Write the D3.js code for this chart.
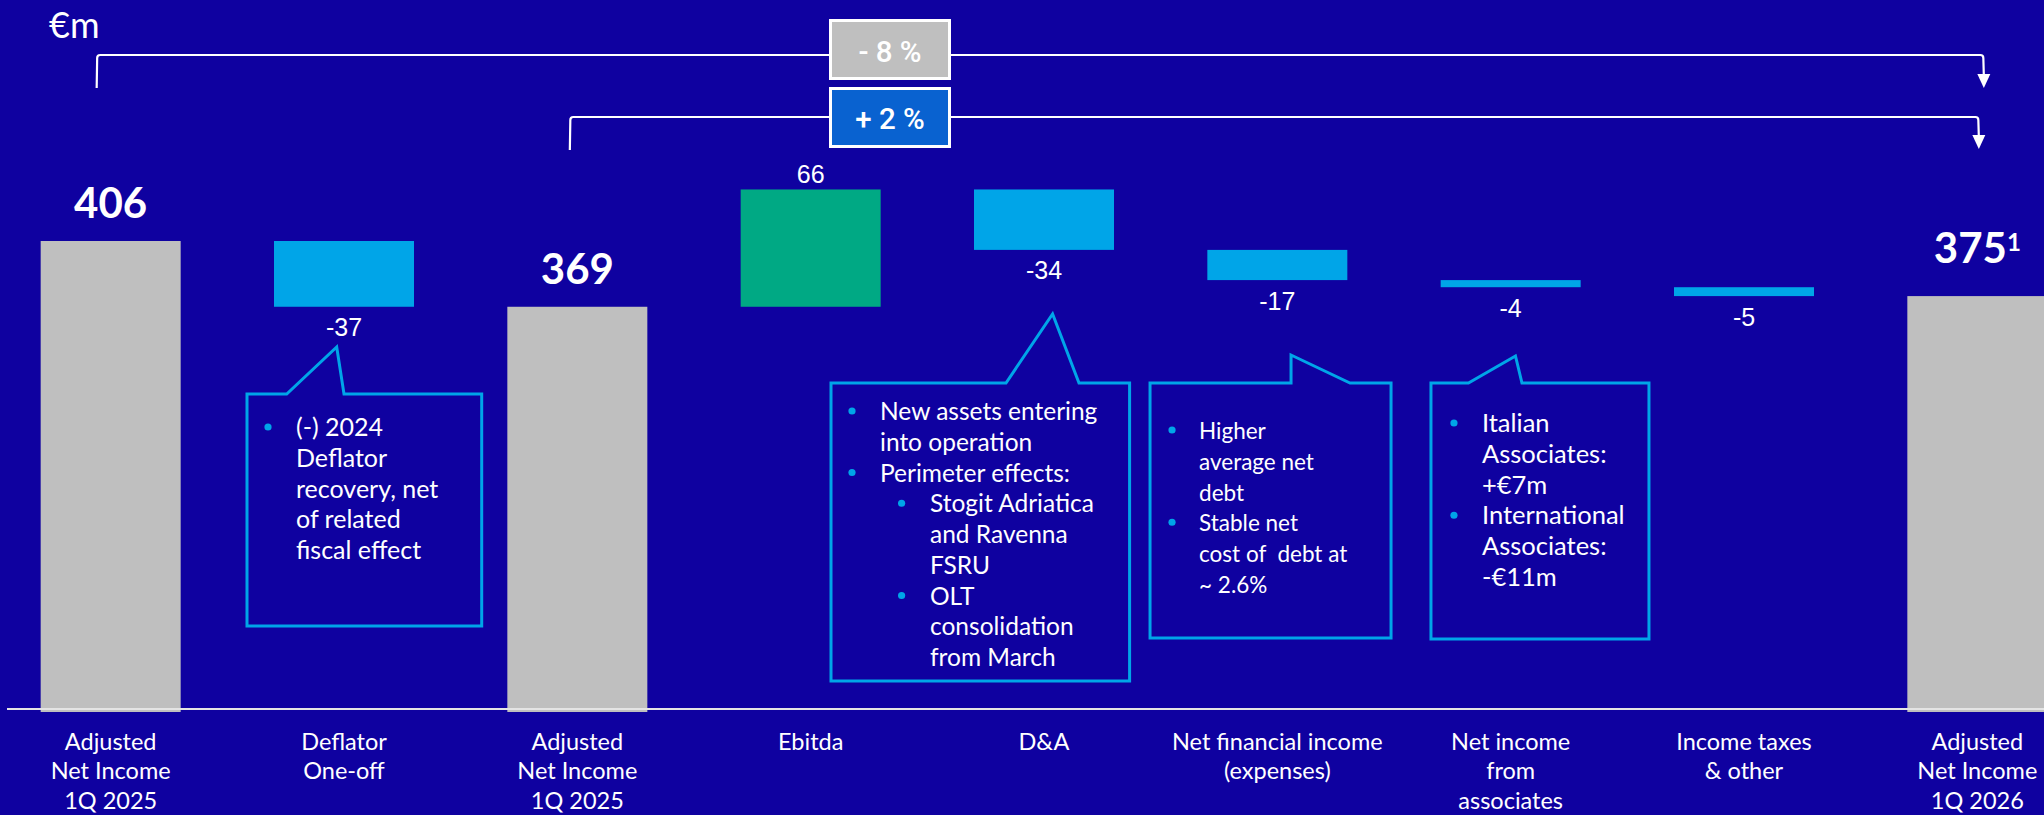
<!DOCTYPE html>
<html>
<head>
<meta charset="utf-8">
<script src="https://cdn.jsdelivr.net/npm/d3@7"></script>
<style>
  html, body { margin: 0; padding: 0; background: #0f01a0; }
  svg { display: block; }
  text { font-family: Lato, "Open Sans", sans-serif; fill: #ffffff; }
</style>
</head>
<body>
<svg id="chart" width="2044" height="815"></svg>
<script>
// ---- data -------------------------------------------------------------
const categories = [
  "Adjusted\nNet Income\n1Q 2025",
  "Deflator\nOne-off",
  "Adjusted\nNet Income\n1Q 2025",
  "Ebitda",
  "D&A",
  "Net financial income\n(expenses)",
  "Net income\nfrom\nassociates",
  "Income taxes\n& other",
  "Adjusted\nNet Income\n1Q 2026"
];
const values   = [406, -37, 369, 66, -34, -17, -4, -5, 375];
const barTypes = ["total", "delta", "total", "delta", "delta", "delta", "delta", "delta", "total"];
const footnotes = ["", "", "", "", "", "", "", "", "1"];
const unitLabel = "€m";

const noteDeflator = [
  { t: "(-) 2024", lvl: 1 }, { t: "Deflator", lvl: 0 }, { t: "recovery, net", lvl: 0 },
  { t: "of related", lvl: 0 }, { t: "fiscal effect", lvl: 0 }
];
const noteDA = [
  { t: "New assets entering", lvl: 1 }, { t: "into operation", lvl: 0 },
  { t: "Perimeter effects:", lvl: 1 },
  { t: "Stogit Adriatica", lvl: 2 }, { t: "and Ravenna", lvl: 3 }, { t: "FSRU", lvl: 3 },
  { t: "OLT", lvl: 2 }, { t: "consolidation", lvl: 3 }, { t: "from March", lvl: 3 }
];
const noteFinancial = [
  { t: "Higher", lvl: 1 }, { t: "average net", lvl: 0 }, { t: "debt", lvl: 0 },
  { t: "Stable net", lvl: 1 }, { t: "cost of  debt at", lvl: 0 }, { t: "~ 2.6%", lvl: 0 }
];
const noteAssociates = [
  { t: "Italian", lvl: 1 }, { t: "Associates:", lvl: 0 }, { t: "+€7m", lvl: 0 },
  { t: "International", lvl: 1 }, { t: "Associates:", lvl: 0 }, { t: "-€11m", lvl: 0 }
];

// ---- style ------------------------------------------------------------
const C = {
  total: "#bfbfbf",
  up: "#00a984",
  down: "#00a5e8",
  callout: "#00a5e8",
  pctDown: "#bfbfbf",
  pctUp: "#0962d0",
  axis: "#e4e4e4"
};

const svg = d3.select("#chart");

// ---- scales -----------------------------------------------------------
const x = d3.scaleBand()
  .domain(d3.range(categories.length))
  .range([-6, 2094])
  .paddingInner(0.4)
  .paddingOuter(0.2);

// value axis is broken: bars start from 141 rather than zero
const y = d3.scaleLinear().domain([141, 406]).range([712, 241]);

// ---- waterfall geometry -------------------------------------------------
let running = 0;
const bars = values.map((v, i) => {
  let lo, hi;
  if (barTypes[i] === "total") {
    lo = y.domain()[0]; hi = v; running = v;
  } else {
    const start = running; running += v;
    lo = Math.min(start, running); hi = Math.max(start, running);
  }
  return { i, v, type: barTypes[i], lo, hi };
});

const color = d => d.type === "total" ? C.total : (d.v > 0 ? C.up : C.down);

svg.append("g").selectAll("rect")
  .data(bars).join("rect")
  .attr("x", d => x(d.i))
  .attr("width", x.bandwidth())
  .attr("y", d => y(d.hi))
  .attr("height", d => y(d.lo) - y(d.hi))
  .attr("fill", color);

// baseline
svg.append("line")
  .attr("x1", 7).attr("x2", 2044)
  .attr("y1", 709).attr("y2", 709)
  .attr("stroke", C.axis).attr("stroke-width", 2.2);

// ---- value labels --------------------------------------------------------
const cx = i => x(i) + x.bandwidth() / 2;

const totals = bars.filter(d => d.type === "total");
const totalLabels = svg.append("g").selectAll("text")
  .data(totals).join("text")
  .attr("x", d => cx(d.i))
  .attr("y", d => y(d.hi) - (footnotes[d.i] ? 33 : 23))
  .attr("text-anchor", "middle")
  .style("font-weight", 700)
  .style("font-size", "42px");
totalLabels.append("tspan").text(d => d.v);
totalLabels.filter(d => footnotes[d.i])
  .append("tspan")
  .attr("dy", -12)
  .style("font-size", "24px")
  .text(d => footnotes[d.i]);

const deltas = bars.filter(d => d.type === "delta");
svg.append("g").selectAll("text")
  .data(deltas).join("text")
  .attr("x", d => cx(d.i))
  .attr("y", d => d.v > 0 ? y(d.hi) - 6 : y(d.lo) + 29.5)
  .attr("text-anchor", "middle")
  .style("font-family", "'Liberation Sans', Arial, sans-serif")
  .style("font-size", "25px")
  .text(d => d.v);

// ---- category labels ------------------------------------------------------
const catG = svg.append("g").selectAll("text")
  .data(categories.map((c, i) => ({ c, i }))).join("text")
  .attr("x", d => cx(d.i))
  .attr("y", 750)
  .attr("text-anchor", "middle")
  .style("font-size", "23.5px");
catG.selectAll("tspan")
  .data(d => d.c.split("\n").map(t => ({ t, x: cx(d.i) })))
  .join("tspan")
  .attr("x", d => d.x)
  .attr("dy", (d, k) => k === 0 ? 0 : 29.3)
  .text(d => d.t);

// ---- unit -----------------------------------------------------------------
svg.append("text")
  .attr("x", 49).attr("y", 38)
  .style("font-size", "36px")
  .text(unitLabel);

// ---- change brackets ---------------------------------------------------------
const first = values[0], mid = values[2], last = values[values.length - 1];
const pct = (a, b) => {
  const p = Math.round((b - a) / a * 100);
  return (p < 0 ? "- " : "+ ") + Math.abs(p) + " %";
};

function bracket(x0, yBottom, yLine, x1, yTip) {
  const r = 3;
  svg.append("path")
    .attr("d", `M${x0},${yBottom} L${x0 + 0.5},${yLine + r} Q${x0 + 0.5},${yLine} ${x0 + r + 0.5},${yLine}
               L${x1 - r},${yLine} Q${x1},${yLine} ${x1},${yLine + r} L${x1 + 0.5},${yTip - 12}`)
    .attr("fill", "none").attr("stroke", "#ffffff").attr("stroke-width", 2.2);
  svg.append("path")
    .attr("d", `M${x1 + 0.5 - 6.5},${yTip - 14} L${x1 + 0.5 + 6.5},${yTip - 14} L${x1 + 0.5},${yTip} Z`)
    .attr("fill", "#ffffff");
}

bracket(cx(0) - 14, 88, 55, cx(8) + 6, 88);
bracket(cx(2) - 7.5, 150, 117, cx(8) + 1, 149);

function pctBox(yTop, fill, label, baseline) {
  svg.append("rect")
    .attr("x", 830.5).attr("y", yTop)
    .attr("width", 119).attr("height", 58)
    .attr("fill", fill).attr("stroke", "#ffffff").attr("stroke-width", 3);
  svg.append("text")
    .attr("x", 890).attr("y", baseline)
    .attr("text-anchor", "middle")
    .style("font-family", "Roboto, 'Liberation Sans', sans-serif")
    .style("font-weight", 500)
    .style("font-size", "29.5px")
    .style("white-space", "pre")
    .text(label);
}
pctBox(20.5, C.pctDown, pct(first, last), 61.5);
pctBox(88.5, C.pctUp, pct(mid, last), 129);

// ---- callouts ---------------------------------------------------------------
// offsets are relative to the centre of the bar the callout points at
const calloutLayout = [
  { bar: 1, notes: noteDeflator, size: 25, left: -97, right: 137.7, top: 394, bottom: 626,
    baseL: -57.3, tipX: -7.3, tipY: 347, baseR: 0, bx: -76, tx: -48, sbx: 0, stx: 0, first: 436 },
  { bar: 4, notes: noteDA, size: 24.5, left: -213, right: 85.6, top: 383, bottom: 681,
    baseL: -38, tipX: 8.6, tipY: 314, baseR: 35, bx: -192, tx: -164, sbx: -142.4, stx: -114, first: 420 },
  { bar: 5, notes: noteFinancial, size: 22.5, left: -127.3, right: 113.7, top: 383, bottom: 638,
    baseL: 13.7, tipX: 13.7, tipY: 355, baseR: 72.7, bx: -105.3, tx: -78.3, sbx: 0, stx: 0, first: 439 },
  { bar: 6, notes: noteAssociates, size: 25.5, left: -79.7, right: 138.3, top: 383, bottom: 639,
    baseL: -42.2, tipX: 4.8, tipY: 356, baseR: 11.3, bx: -56.7, tx: -28.7, sbx: 0, stx: 0, first: 432 }
];
const lineH = 30.75;

calloutLayout.forEach(c => {
  const o = cx(c.bar);
  const g = svg.append("g");
  g.append("path")
    .attr("d", `M${o + c.left},${c.top} L${o + c.baseL},${c.top} L${o + c.tipX},${c.tipY}
                L${o + c.baseR},${c.top} L${o + c.right},${c.top} L${o + c.right},${c.bottom}
                L${o + c.left},${c.bottom} Z`)
    .attr("fill", "none")
    .attr("stroke", C.callout)
    .attr("stroke-width", 3)
    .attr("stroke-linejoin", "miter");
  c.notes.forEach((n, k) => {
    const base = c.first + k * lineH;
    const sub = n.lvl >= 2;
    if (n.lvl === 1 || n.lvl === 2) {
      g.append("circle")
        .attr("cx", o + (sub ? c.sbx : c.bx))
        .attr("cy", base - 9)
        .attr("r", 3.6)
        .attr("fill", C.callout);
    }
    g.append("text")
      .attr("x", o + (sub ? c.stx : c.tx))
      .attr("y", base)
      .style("font-size", c.size + "px")
      .style("white-space", "pre")
      .text(n.t);
  });
});
</script>
</body>
</html>
